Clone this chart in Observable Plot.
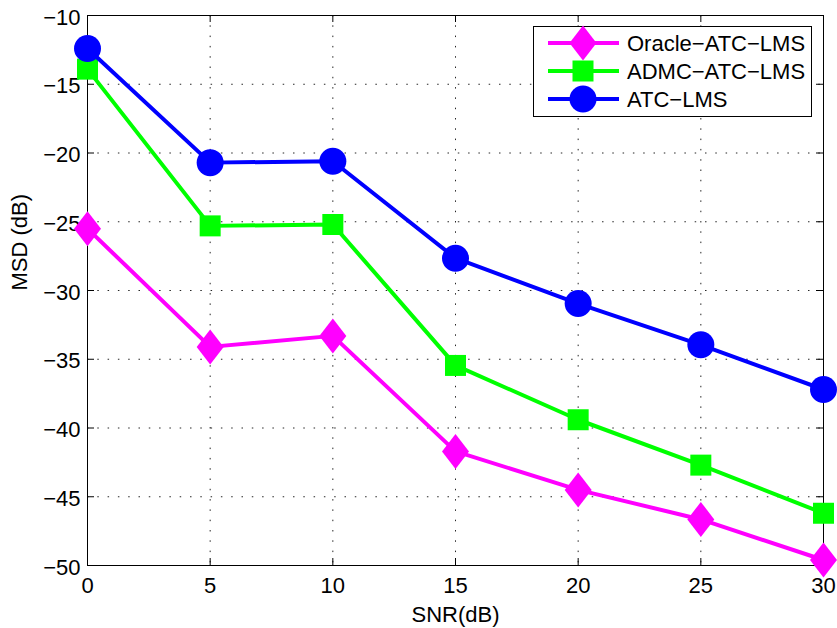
<!DOCTYPE html>
<html>
<head>
<meta charset="utf-8">
<script src="https://cdn.jsdelivr.net/npm/d3@7"></script>
<script src="https://cdn.jsdelivr.net/npm/@observablehq/plot@0.6"></script>
<style>
  html, body { margin: 0; padding: 0; background: white; }
  #wrap { position: relative; width: 837px; height: 628px; }
  #legend { position: absolute; left: 0; top: 0; }
</style>
</head>
<body>
<div id="wrap"></div>
<script>
// ---- data ----
const snr = [0, 5, 10, 15, 20, 25, 30];
const seriesNames = ["Oracle−ATC−LMS", "ADMC−ATC−LMS", "ATC−LMS"];
const oracleMSD = [-25.5, -34.1, -33.3, -41.7, -44.5, -46.65, -49.6];
const admcMSD = [-13.9, -25.3, -25.2, -35.45, -39.4, -42.7, -46.2];
const atcMSD = [-12.4, -20.7, -20.6, -27.65, -30.95, -33.95, -37.2];
const xTicks = [0, 5, 10, 15, 20, 25, 30];
const yTicks = [-50, -45, -40, -35, -30, -25, -20, -15, -10];
const xLabel = "SNR(dB)";
const yLabel = "MSD (dB)";

const colors = ["#ff00ff", "#00ff00", "#0000ff"];

// tall diamond like MATLAB's 'd' marker on a stretched figure
const tallDiamond = {
  draw(ctx) {
    const w = 13.5, h = 17.5;
    ctx.moveTo(0, -h); ctx.lineTo(w, 0); ctx.lineTo(0, h); ctx.lineTo(-w, 0); ctx.closePath();
  }
};
const squareSym = {
  draw(ctx) {
    const s = 10.5;
    ctx.moveTo(-s, -s); ctx.lineTo(s, -s); ctx.lineTo(s, s); ctx.lineTo(-s, s); ctx.closePath();
  }
};
const circleSym = {
  draw(ctx) {
    const r = 13.5;
    ctx.moveTo(r, 0); ctx.arc(0, 0, r, 0, 2 * Math.PI);
  }
};
const symbols = [tallDiamond, squareSym, circleSym];

const allValues = [oracleMSD, admcMSD, atcMSD];
const rows = [];
allValues.forEach((vals, i) => {
  vals.forEach((v, j) => rows.push({series: seriesNames[i], idx: i, snr: snr[j], msd: v}));
});

const W = 837, H = 628;
const mL = 87, mR = 14, mT = 15, mB = 63;
const plotW = W - mL - mR, plotH = H - mT - mB;
const tickLen = 7;

const gridStyle = {stroke: "black", strokeOpacity: 0.85, strokeWidth: 1, strokeDasharray: "1.5,8.8"};

const marks = [
  Plot.gridX(xTicks.slice(1, -1), gridStyle),
  Plot.gridY(yTicks.slice(1, -1), gridStyle),
  Plot.frame({stroke: "black", strokeWidth: 1}),
  Plot.tickX(xTicks, {x: d => d, stroke: "black", insetTop: plotH - tickLen}),
  Plot.tickX(xTicks, {x: d => d, stroke: "black", insetBottom: plotH - tickLen}),
  Plot.tickY(yTicks, {y: d => d, stroke: "black", insetRight: plotW - tickLen}),
  Plot.tickY(yTicks, {y: d => d, stroke: "black", insetLeft: plotW - tickLen}),
  Plot.axisX(xTicks, {tickSize: 0, tickPadding: 12, label: null}),
  Plot.axisY(yTicks, {tickSize: 0, tickPadding: 7, label: null, dy: 2}),
  Plot.text([xLabel], {text: d => d, frameAnchor: "bottom", dy: 56, fontSize: 22}),
  Plot.text([yLabel], {text: d => d, frameAnchor: "left", dx: -68, rotate: -90, fontSize: 22})
];
seriesNames.forEach((name, i) => {
  const data = rows.filter(r => r.series === name);
  marks.push(Plot.line(data, {x: "snr", y: "msd", stroke: colors[i], strokeWidth: 4}));
  marks.push(Plot.dot(data, {x: "snr", y: "msd", symbol: () => symbols[i], fill: colors[i], stroke: "none", r: 13.5}));
});

const chart = Plot.plot({
  width: W, height: H,
  marginLeft: mL, marginRight: mR, marginTop: mT, marginBottom: mB,
  x: {domain: [0, 30]},
  y: {domain: [-50, -10]},
  symbol: {type: "identity"},
  style: {fontFamily: "'Liberation Sans', Arial, Helvetica, sans-serif", fontSize: "22px", background: "white", color: "black", overflow: "visible"},
  marks
});
const wrap = document.getElementById("wrap");
wrap.appendChild(chart);

// ---- legend (overlay) ----
const lg = d3.select(wrap).append("svg")
  .attr("id", "legend").attr("width", W).attr("height", H)
  .style("font-family", "'Liberation Sans', Arial, Helvetica, sans-serif")
  .style("font-size", "22px");
lg.append("rect").attr("x", 533.5).attr("y", 26.5).attr("width", 278).attr("height", 90)
  .attr("fill", "white").attr("stroke", "black").attr("stroke-width", 1);
seriesNames.forEach((name, i) => {
  const cy = 43 + i * 28;
  lg.append("line").attr("x1", 548).attr("x2", 619).attr("y1", cy).attr("y2", cy)
    .attr("stroke", colors[i]).attr("stroke-width", 4);
  lg.append("path").attr("transform", `translate(583,${cy})`)
    .attr("d", d3.symbol(symbols[i])()).attr("fill", colors[i]);
  lg.append("text").attr("x", 627).attr("y", cy).attr("dy", "0.36em").text(name);
});
</script>
</body>
</html>
